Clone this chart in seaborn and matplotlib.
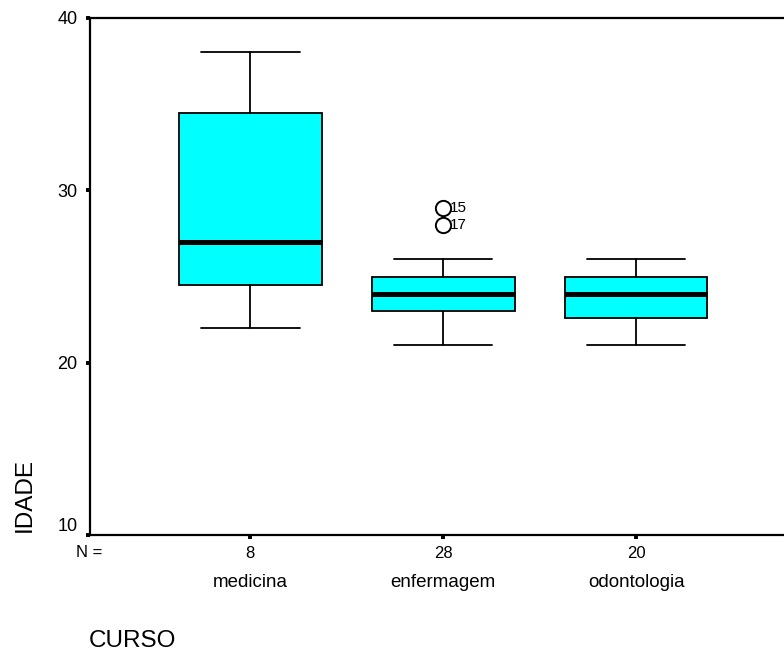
import matplotlib
matplotlib.use("Agg")
import matplotlib.pyplot as plt
from matplotlib import font_manager
import seaborn as sns

# Age (IDADE) summary by course (CURSO)
cursos = ["medicina", "enfermagem", "odontologia"]
n_casos = [8, 28, 20]
whisker_low = [22, 21, 21]
quartil_1 = [24.5, 23, 22.6]
mediana = [27, 24, 24]
quartil_3 = [34.5, 25, 25]
whisker_high = [38, 26, 26]
outliers = [[], [29, 28], []]
outlier_ids = [[], ["15", "17"], []]
y_ticks = [10, 20, 30, 40]

sns.set_theme(style="white")
installed = {f.name for f in font_manager.fontManager.ttflist}
regular = "Liberation Sans"
narrow = "Liberation Sans Narrow" if "Liberation Sans Narrow" in installed else "Liberation Sans"
plt.rcParams["font.family"] = [regular, "DejaVu Sans"]
plt.rcParams["text.color"] = "black"
plt.rcParams["xtick.color"] = "black"
plt.rcParams["ytick.color"] = "black"

W, H = 784, 653
fig = plt.figure(figsize=(W / 100, H / 100), dpi=100)
ax = fig.add_axes([89.5 / W, (H - 535) / H, 1 - 89.5 / W, (535 - 18) / H])

stats = []
for i, name in enumerate(cursos):
    stats.append(dict(label=name, whislo=whisker_low[i], q1=quartil_1[i],
                      med=mediana[i], q3=quartil_3[i], whishi=whisker_high[i],
                      fliers=outliers[i]))

positions = list(range(len(cursos)))
ax.bxp(stats, positions=positions, widths=0.74, capwidths=0.51,
       patch_artist=True, showfliers=True,
       boxprops=dict(facecolor="#00FFFF", edgecolor="black", linewidth=1.3),
       medianprops=dict(color="black", linewidth=3.6, solid_capstyle="butt"),
       whiskerprops=dict(color="black", linewidth=1.3),
       capprops=dict(color="black", linewidth=1.3),
       flierprops=dict(marker="o", markersize=11, markerfacecolor="none",
                       markeredgecolor="black", markeredgewidth=1.4))

# case labels next to the outliers
for i, (vals, ids) in enumerate(zip(outliers, outlier_ids)):
    for v, lab in zip(vals, ids):
        ax.annotate(lab, xy=(positions[i], v), xytext=(5, 0),
                    textcoords="offset points", ha="left", va="center",
                    fontsize=11, family=narrow, color="black")

ax.set_xlim(-0.834, 2.767)
ax.set_ylim(10, 40)
ax.set_yticks(y_ticks)
ax.set_yticklabels([str(t) for t in y_ticks], fontsize=13)
ax.set_xticks(positions)
ax.set_xticklabels([])
ax.tick_params(axis="both", which="major", direction="out", length=2.6,
               width=2.8, color="black", labelcolor="black",
               left=True, bottom=True, right=False, top=False)
ax.tick_params(axis="y", pad=6)
ax.get_yticklabels()[0].set_verticalalignment("bottom")

for side in ["left", "top", "bottom"]:
    ax.spines[side].set_visible(True)
    ax.spines[side].set_color("black")
    ax.spines[side].set_linewidth(1.6)
ax.spines["right"].set_visible(False)
ax.grid(False)
ax.set_xlabel("")
ax.set_ylabel("")


def px(x, y):
    return x / W, 1 - y / H


# counts row
fig.text(*px(89, 557), "N =", ha="center", va="baseline", fontsize=12,
         family=narrow, color="black")
for i, n in enumerate(n_casos):
    xpix = 89.5 + (positions[i] + 0.834) / (2.767 + 0.834) * (W - 89.5)
    fig.text(*px(xpix, 558), str(n), ha="center", va="baseline",
             fontsize=12, family=narrow, color="black")
    fig.text(*px(xpix, 587), cursos[i], ha="center", va="baseline",
             fontsize=13.5, color="black")

fig.text(*px(25, 495), "IDADE", rotation=90, ha="center", va="center",
         fontsize=17.5, color="black")
fig.text(*px(89, 652), "CURSO", ha="left", va="bottom", fontsize=17.5,
         color="black")

fig.savefig("out.png", dpi=100)
